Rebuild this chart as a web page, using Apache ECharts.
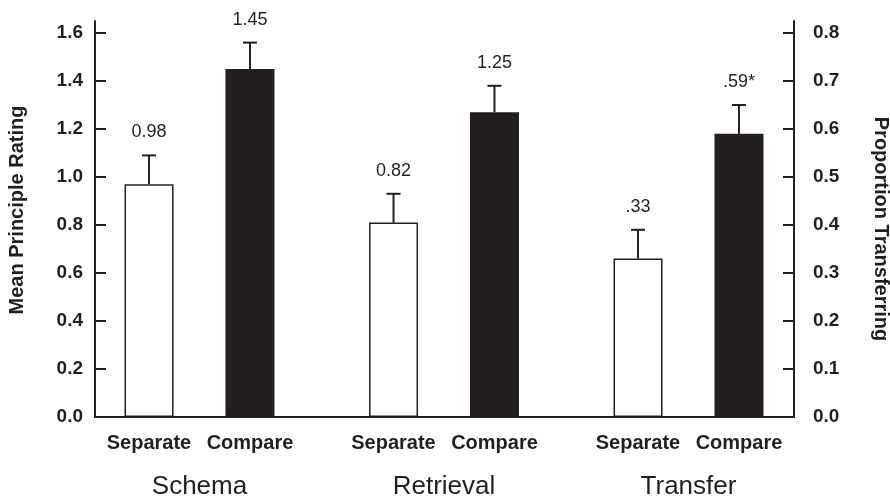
<!DOCTYPE html>
<html>
<head>
<meta charset="utf-8">
<title>Mean Principle Rating / Proportion Transferring</title>
<script src="https://cdn.jsdelivr.net/npm/echarts@6/dist/echarts.min.js"></script>
<style>
  html, body { margin: 0; padding: 0; background: #fff; }
  #chart { width: 890px; height: 502px; }
</style>
</head>
<body>
<div id="chart"></div>
<script>
// groups along the x axis; Transfer is read on the right-hand axis
const groups = ['Schema', 'Retrieval', 'Transfer']
const conditions = ['Separate', 'Compare']
const useRightAxis = [false, false, true]

// bar heights and error bar tops
const separateMeans = [0.97, 0.81, 0.33]
const compareMeans = [1.45, 1.27, 0.59]
const separateErrTop = [1.09, 0.93, 0.39]
const compareErrTop = [1.56, 1.38, 0.65]
const separateLabels = ['0.98', '0.82', '.33']
const compareLabels = ['1.45', '1.25', '.59*']

const leftTicks = [0, 0.2, 0.4, 0.6, 0.8, 1.0, 1.2, 1.4, 1.6]
const rightTicks = [0, 0.1, 0.2, 0.3, 0.4, 0.5, 0.6, 0.7, 0.8]

const INK = '#231f20'
const FONT = '"Liberation Sans", Arial, sans-serif'
const BAR_W = 49
const BAR_GAP = 1.06
const HALF = BAR_W * (1 + BAR_GAP) / 2

function pick(arr, right) {
  return arr.map((v, i) => (useRightAxis[i] === right ? v : '-'))
}

function errData(right) {
  const out = []
  groups.forEach((g, i) => {
    if (useRightAxis[i] !== right) return
    out.push([i, 0, separateMeans[i], separateErrTop[i], separateLabels[i]])
    out.push([i, 1, compareMeans[i], compareErrTop[i], compareLabels[i]])
  })
  return out
}

const errSource = { errLeft: errData(false), errRight: errData(true) }

function renderErr(params, api) {
  const x = api.coord([api.value(0), 0])[0] + (api.value(1) === 0 ? -HALF : HALF)
  const yBar = api.coord([api.value(0), api.value(2)])[1]
  const yTop = api.coord([api.value(0), api.value(3)])[1]
  const label = errSource[params.seriesName][params.dataIndex][4]
  return {
    type: 'group',
    children: [
      { type: 'line', shape: { x1: x, y1: yBar, x2: x, y2: yTop }, style: { stroke: INK, lineWidth: 2 } },
      { type: 'line', shape: { x1: x - 7, y1: yTop, x2: x + 7, y2: yTop }, style: { stroke: INK, lineWidth: 2 } },
      {
        type: 'text',
        x: x,
        y: yTop - 23,
        style: { text: label, fill: INK, font: '18px ' + FONT, align: 'center', verticalAlign: 'middle' }
      }
    ]
  }
}

const visibleY = {
  axisLine: { show: true, lineStyle: { color: INK, width: 2 } },
  axisTick: { show: true, inside: true, length: 11, lineStyle: { color: INK, width: 2 } },
  splitLine: { show: false },
  nameLocation: 'middle'
}

const chart = echarts.init(document.getElementById('chart'))
chart.setOption({
  animation: false,
  backgroundColor: '#fff',
  textStyle: { fontFamily: FONT },
  grid: [
    { left: 95, right: 96, top: 21, bottom: 85, outerBoundsMode: 'none', containLabel: false },
    { left: 77.25, width: 733.5, top: 21, bottom: 85, outerBoundsMode: 'none', containLabel: false }
  ],
  xAxis: [
    {
      gridIndex: 0, type: 'value', min: 0, max: 1,
      axisLine: { show: true, onZero: false, lineStyle: { color: INK, width: 2 } },
      axisTick: { show: false }, axisLabel: { show: false }, splitLine: { show: false }
    },
    {
      gridIndex: 1, type: 'category', data: groups,
      axisLine: { show: false }, axisTick: { show: false },
      axisLabel: {
        interval: 0,
        margin: 8,
        color: INK,
        formatter: name => '{s|' + conditions[0] + '}{c|' + conditions[1] + '}\n{g|' + name + '}',
        rich: {
          s: { width: 101, align: 'center', fontWeight: 'bold', fontSize: 20, lineHeight: 36, color: INK, fontFamily: FONT },
          c: { width: 101, align: 'center', fontWeight: 'bold', fontSize: 20, lineHeight: 36, color: INK, fontFamily: FONT },
          g: { fontSize: 26, lineHeight: 52, color: INK, fontFamily: FONT }
        }
      }
    },
    { gridIndex: 1, type: 'category', data: groups, show: false }
  ],
  yAxis: [
    Object.assign({}, visibleY, {
      gridIndex: 0, type: 'value', position: 'left', min: 0, max: 1.65,
      axisTick: Object.assign({}, visibleY.axisTick, { customValues: leftTicks }),
      axisLabel: {
        customValues: leftTicks, margin: 12, color: INK, fontWeight: 'bold', fontSize: 19,
        formatter: v => v.toFixed(1)
      },
      name: 'Mean Principle Rating', nameGap: 68, nameRotate: 90,
      nameTextStyle: { color: INK, fontWeight: 'bold', fontSize: 20, padding: [0, 0, 0, 18] }
    }),
    Object.assign({}, visibleY, {
      gridIndex: 0, type: 'value', position: 'right', min: 0, max: 0.825,
      axisTick: Object.assign({}, visibleY.axisTick, { customValues: rightTicks }),
      axisLabel: {
        customValues: rightTicks, margin: 19, color: INK, fontWeight: 'bold', fontSize: 19,
        formatter: v => v.toFixed(1)
      },
      name: 'Proportion Transferring', nameGap: 77, nameRotate: -90,
      nameTextStyle: { color: INK, fontWeight: 'bold', fontSize: 20, padding: [0, 0, 0, 20] }
    }),
    { gridIndex: 1, type: 'value', min: 0, max: 1.65, show: false },
    { gridIndex: 1, type: 'value', min: 0, max: 0.825, show: false }
  ],
  series: [
    {
      name: 'Separate', type: 'bar', xAxisIndex: 1, yAxisIndex: 2,
      barWidth: BAR_W, barGap: (BAR_GAP * 100) + '%',
      itemStyle: { color: '#fff', borderColor: INK, borderWidth: 1.5 },
      data: pick(separateMeans, false)
    },
    {
      name: 'Compare', type: 'bar', xAxisIndex: 1, yAxisIndex: 2,
      barWidth: BAR_W, barGap: (BAR_GAP * 100) + '%',
      itemStyle: { color: INK, borderColor: INK, borderWidth: 1.5 },
      data: pick(compareMeans, false)
    },
    {
      name: 'Separate ', type: 'bar', xAxisIndex: 2, yAxisIndex: 3,
      barWidth: BAR_W, barGap: (BAR_GAP * 100) + '%',
      itemStyle: { color: '#fff', borderColor: INK, borderWidth: 1.5 },
      data: pick(separateMeans, true)
    },
    {
      name: 'Compare ', type: 'bar', xAxisIndex: 2, yAxisIndex: 3,
      barWidth: BAR_W, barGap: (BAR_GAP * 100) + '%',
      itemStyle: { color: INK, borderColor: INK, borderWidth: 1.5 },
      data: pick(compareMeans, true)
    },
    {
      name: 'errLeft', type: 'custom', xAxisIndex: 1, yAxisIndex: 2, clip: false, z: 5,
      renderItem: renderErr, data: errSource.errLeft.map(d => d.slice(0, 4))
    },
    {
      name: 'errRight', type: 'custom', xAxisIndex: 2, yAxisIndex: 3, clip: false, z: 5,
      renderItem: renderErr, data: errSource.errRight.map(d => d.slice(0, 4))
    }
  ]
})
</script>
</body>
</html>
